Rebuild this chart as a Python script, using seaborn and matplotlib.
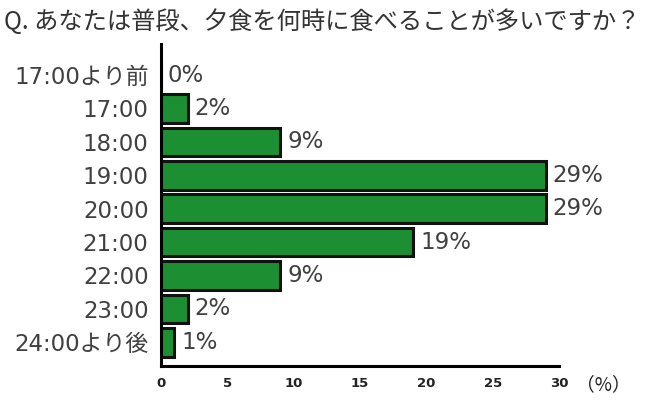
import matplotlib
matplotlib.use("Agg")
import matplotlib.pyplot as plt
import seaborn as sns
import pandas as pd

categories = ["17:00より前", "17:00", "18:00", "19:00", "20:00", "21:00", "22:00", "23:00", "24:00より後"]
values = [0, 2, 9, 29, 29, 19, 9, 2, 1]
value_labels = ["0%", "2%", "9%", "29%", "29%", "19%", "9%", "2%", "1%"]
x_ticks = [0, 5, 10, 15, 20, 25, 30]
title = "Q. あなたは普段、夕食を何時に食べることが多いですか？"

sns.set_theme(style="white")
plt.rcParams['font.family'] = ['Noto Sans CJK JP', 'DejaVu Sans']
mixed = ['DejaVu Sans', 'Noto Sans CJK JP']

df = pd.DataFrame({"cat": categories, "val": values})

fig = plt.figure(figsize=(6.5, 4), dpi=100)
ax = fig.add_axes([0.2477, 0.085, 0.6123, 0.805])

sns.barplot(data=df, y="cat", x="val", orient="h", color="#1c8f32",
            saturation=1, width=0.86, edgecolor="#111111", linewidth=2.2, ax=ax)

ax.set_xlim(0, 30)
ax.set_ylim(8.71, -0.93)
ax.set_xlabel("")
ax.set_ylabel("")
ax.set_xticks(x_ticks)
ax.set_xticklabels([str(t) for t in x_ticks], fontsize=9.5, color="#222222",
                   family=['DejaVu Sans'], fontweight="bold")
ax.tick_params(axis="x", direction="in", length=7, width=2, color="black", pad=8)
ax.tick_params(axis="y", length=0, pad=9)
for lab in ax.get_yticklabels():
    lab.set_family(mixed)
    lab.set_fontsize(16.5)
    lab.set_color("#404040")

for s in ["top", "right"]:
    ax.spines[s].set_visible(False)
for s in ["left", "bottom"]:
    ax.spines[s].set_color("black")
    ax.spines[s].set_linewidth(2.2)

for i, (v, lab) in enumerate(zip(values, value_labels)):
    ax.annotate(lab, xy=(v, i), xytext=(5, 0), textcoords="offset points",
                va="center", ha="left", fontsize=16.5, color="#404040", family=mixed)

ax.annotate("（%）", xy=(1.0, 0), xycoords="axes fraction", xytext=(12, -6),
            textcoords="offset points", ha="left", va="top",
            fontsize=13.5, color="#222222")

fig.text(0.006, 0.945, title, ha="left", va="center", fontsize=17.5, color="#333333")

fig.savefig("out.png", dpi=100, facecolor="white")
